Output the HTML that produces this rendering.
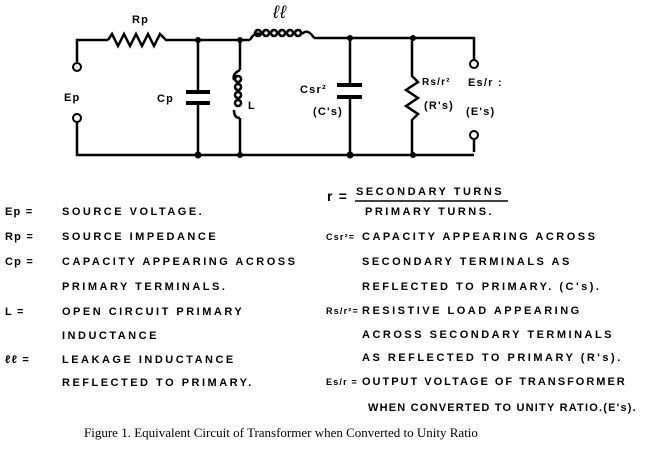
<!DOCTYPE html>
<html><head><style>
body{margin:0;background:#fff;width:648px;height:449px;position:relative;overflow:hidden}
.t{position:absolute;font-family:"Liberation Sans",sans-serif;font-weight:bold;font-size:11px;letter-spacing:2.5px;white-space:nowrap;color:#000;line-height:12px}
.s{letter-spacing:1.2px}
.cap{position:absolute;font-family:"Liberation Serif",serif;font-size:13px;left:84px;top:425px;white-space:nowrap}
</style></head><body>
<svg width="648" height="449" style="position:absolute;left:0;top:0" fill="none" stroke="#000" stroke-width="2.5">
<polyline points="77,62 77,40 108,40"/>
<polyline points="108,40 112,34 118,46 124,34 130,46 136,34 142,46 148,34 154,46 160,34 166,40 250,40"/>
<path d="M250,40 q4,-8 10,-6 M258,36 a3,3 0 1 1 0.1,0 M266,36 a3,3 0 1 1 0.1,0 M274,36 a3,3 0 1 1 0.1,0 M282,36 a3,3 0 1 1 0.1,0 M290,36 a3,3 0 1 1 0.1,0 M298,36 a3,3 0 1 1 0.1,0 M302,34 q6,-6 12,4"/>
<polyline points="314,38 474,38 474,60"/>
<circle cx="77" cy="67" r="4" stroke-width="2"/>
<circle cx="77" cy="118" r="4" stroke-width="2"/>
<polyline points="77,122 77,155 474,155"/>
<circle cx="474" cy="64" r="4" stroke-width="2"/>
<circle cx="474" cy="135" r="4" stroke-width="2"/>
<polyline points="474,139 474,152"/>
<line x1="198" y1="40" x2="198" y2="92"/>
<line x1="198" y1="103" x2="198" y2="155"/>
<line x1="186" y1="92" x2="210" y2="92" stroke-width="4"/>
<line x1="186" y1="103" x2="210" y2="103" stroke-width="4"/>
<line x1="240" y1="40" x2="240" y2="70"/>
<path d="M240,70 q-8,4 -6,10 M238,82 a3,3 0 1 1 0.1,0 M238,90 a3,3 0 1 1 0.1,0 M238,98 a3,3 0 1 1 0.1,0 M238,106 a3,3 0 1 1 0.1,0 M234,110 q0,8 6,8"/>
<line x1="240" y1="118" x2="240" y2="155"/>
<line x1="350" y1="38" x2="350" y2="85"/>
<line x1="350" y1="97" x2="350" y2="155"/>
<line x1="337" y1="85" x2="362" y2="85" stroke-width="4"/>
<line x1="337" y1="97" x2="362" y2="97" stroke-width="4"/>
<polyline points="412,38 412,76 418,82 406,90 418,98 406,106 418,114 412,120 412,155"/>
<g fill="#000" stroke="none">
<circle cx="198" cy="40" r="3"/><circle cx="240" cy="40" r="3"/><circle cx="350" cy="38" r="3"/><circle cx="413" cy="38" r="3"/>
<circle cx="198" cy="155" r="3.5"/><circle cx="240" cy="155" r="3"/><circle cx="350" cy="155" r="3.5"/><circle cx="413" cy="155" r="3"/>
</g>
<line x1="355" y1="201" x2="508" y2="201" stroke-width="1.5"/>
</svg>
<div class="t s" style="left:132px;top:14px">Rp</div>
<div class="t s" style="left:273px;top:6px;font-size:18px;font-style:italic;font-weight:normal">ℓℓ</div>
<div class="t s" style="left:64px;top:92px">Ep</div>
<div class="t s" style="left:157px;top:93px">Cp</div>
<div class="t s" style="left:248px;top:100px">L</div>
<div class="t s" style="left:300px;top:84px">Csr²</div>
<div class="t s" style="left:313px;top:106px">(C's)</div>
<div class="t s" style="left:422px;top:77px;font-size:10px">Rs/r²</div>
<div class="t s" style="left:424px;top:100px">(R's)</div>
<div class="t s" style="left:468px;top:77px">Es/r :</div>
<div class="t s" style="left:466px;top:106px">(E's)</div>

<div class="t s" style="left:5px;top:206px">Ep =</div><div class="t" style="left:62px;top:206px">SOURCE VOLTAGE.</div>
<div class="t s" style="left:5px;top:231px">Rp =</div><div class="t" style="left:62px;top:231px">SOURCE IMPEDANCE</div>
<div class="t s" style="left:5px;top:256px">Cp =</div><div class="t" style="left:62px;top:256px">CAPACITY APPEARING ACROSS</div>
<div class="t" style="left:62px;top:281px">PRIMARY TERMINALS.</div>
<div class="t s" style="left:5px;top:306px">L =</div><div class="t" style="left:62px;top:306px">OPEN CIRCUIT PRIMARY</div>
<div class="t" style="left:62px;top:330px">INDUCTANCE</div>
<div class="t s" style="left:5px;top:354px">ℓℓ =</div><div class="t" style="left:62px;top:354px">LEAKAGE INDUCTANCE</div>
<div class="t" style="left:62px;top:377px">REFLECTED TO PRIMARY.</div>

<div class="t s" style="left:327px;top:190px;font-size:14px">r =</div>
<div class="t" style="left:356px;top:186px">SECONDARY TURNS</div>
<div class="t" style="left:365px;top:206px">PRIMARY TURNS.</div>
<div class="t s" style="left:326px;top:231px;font-size:9px">Csr²=</div><div class="t" style="left:362px;top:231px">CAPACITY APPEARING ACROSS</div>
<div class="t" style="left:362px;top:256px">SECONDARY TERMINALS AS</div>
<div class="t" style="left:362px;top:281px">REFLECTED TO PRIMARY. (C's).</div>
<div class="t s" style="left:326px;top:305px;font-size:9px">Rs/r²=</div><div class="t" style="left:362px;top:305px">RESISTIVE LOAD APPEARING</div>
<div class="t" style="left:362px;top:329px">ACROSS SECONDARY TERMINALS</div>
<div class="t" style="left:362px;top:352px">AS REFLECTED TO PRIMARY (R's).</div>
<div class="t s" style="left:326px;top:376px;font-size:9px">Es/r =</div><div class="t" style="left:362px;top:376px;letter-spacing:2px">OUTPUT VOLTAGE OF TRANSFORMER</div>
<div class="t" style="left:368px;top:402px;letter-spacing:1.2px">WHEN CONVERTED TO UNITY RATIO.(E's).</div>
<div class="cap">Figure 1. Equivalent Circuit of Transformer when Converted to Unity Ratio</div>
</body></html>
